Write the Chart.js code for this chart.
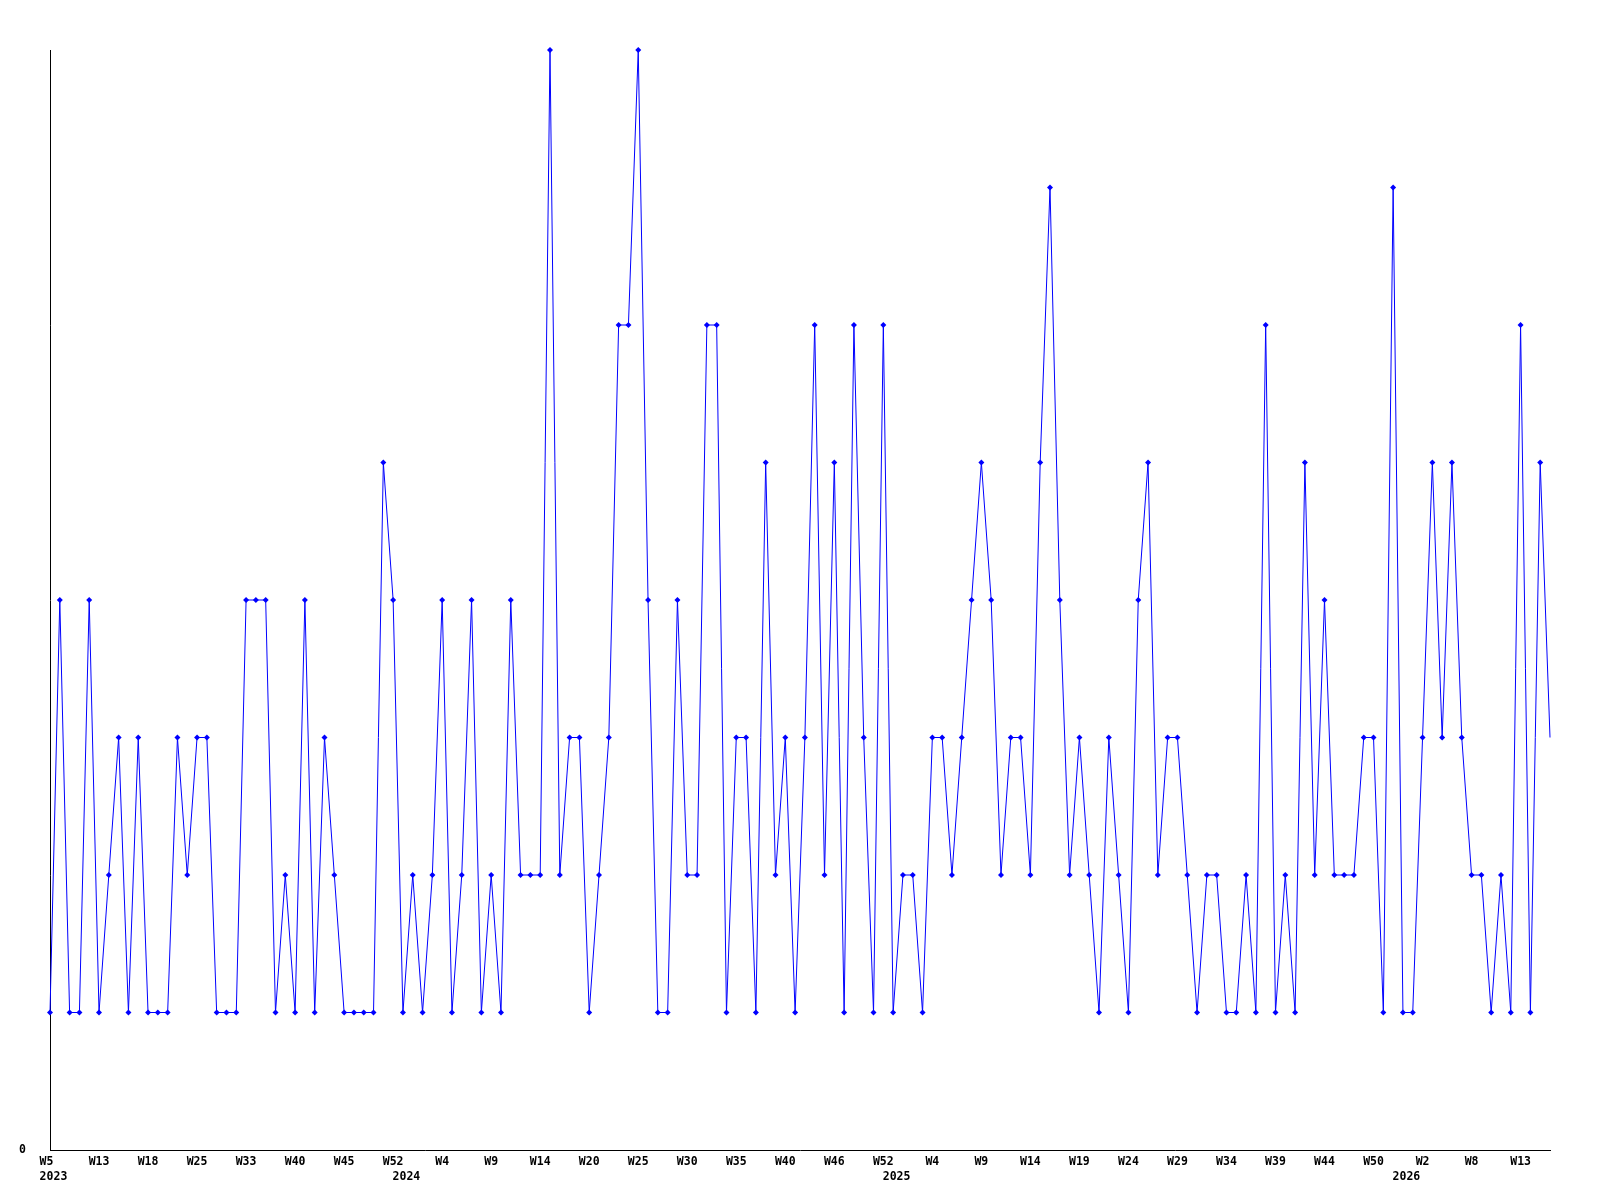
<!DOCTYPE html>
<html>
<head>
<meta charset="utf-8">
<script src="https://cdn.jsdelivr.net/npm/chart.js@4/dist/chart.umd.min.js"></script>
<style>
  body { margin: 0; background: #fff; }
  canvas { display: block; }
</style>
</head>
<body>
<canvas id="graphe" width="1600" height="1200"></canvas>
<script>
// semaines presentes dans les donnees (numerotation %U, les semaines vides sont absentes)
const semaines2023 = [5, 6, 8, 9, 11, 13, 14, 15, 16, 17, 18, 19, 20, 22, 23, 25, 26, 28, 30, 31, 33, 34, 35, 37, 38, 40, 41, 42, 43, 44, 45, 46, 47, 49, 50, 52];
const semaines2024 = [0, 1, 2, 3, 4, 5, 6, 7, 8, 9, 10, 11, 12, 13, 14, 15, 16, 17, 19, 20, 21, 22, 23, 24, 25, 26, 27, 28, 29, 30, 31, 32, 33, 34, 35, 36, 37, 38, 39, 40, 41, 42, 44, 45, 46, 47, 48, 49, 51, 52];
const semaines2025 = [0, 1, 2, 3, 4, 5, 6, 7, 8, 9, 10, 11, 12, 13, 14, 15, 16, 17, 18, 19, 20, 21, 22, 23, 24, 25, 26, 27, 28, 29, 30, 31, 32, 33, 34, 35, 36, 37, 38, 39, 40, 41, 42, 43, 44, 45, 46, 48, 49, 50, 51, 52];
const semaines2026 = [0, 1, 2, 3, 4, 6, 7, 8, 9, 10, 11, 12, 13, 14, 15, 16];

// valeurs par semaine
const valeurs = [
    1, 4, 1, 1, 4, 1, 2, 3, 1, 3,
    1, 1, 1, 3, 2, 3, 3, 1, 1, 1,
    4, 4, 4, 1, 2, 1, 4, 1, 3, 2,
    1, 1, 1, 1, 5, 4, 1, 2, 1, 2,
    4, 1, 2, 4, 1, 2, 1, 4, 2, 2,
    2, 8, 2, 3, 3, 1, 2, 3, 6, 6,
    8, 4, 1, 1, 4, 2, 2, 6, 6, 1,
    3, 3, 1, 5, 2, 3, 1, 3, 6, 2,
    5, 1, 6, 3, 1, 6, 1, 2, 2, 1,
    3, 3, 2, 3, 4, 5, 4, 2, 3, 3,
    2, 5, 7, 4, 2, 3, 2, 1, 3, 2,
    1, 4, 5, 2, 3, 3, 2, 1, 2, 2,
    1, 1, 2, 1, 6, 1, 2, 1, 5, 2,
    4, 2, 2, 2, 3, 3, 1, 7, 1, 1,
    3, 5, 3, 5, 3, 2, 2, 1, 2, 1,
    6, 1, 5, 3
];

const categories = [].concat(
    semaines2023.map(s => '2023-W' + s),
    semaines2024.map(s => '2024-W' + s),
    semaines2025.map(s => '2025-W' + s),
    semaines2026.map(s => '2026-W' + s)
);

const police = { family: '"DejaVu Sans Mono", monospace', size: 11.5, weight: 'bold', lineHeight: 1.3 };

let ctx = document.getElementById('graphe').getContext('2d');
let chart = new Chart(ctx, {
    type: 'line',
    data: {
        labels: categories,
        datasets: [{
            data: valeurs,
            borderColor: '#0000ff',
            borderWidth: 1,
            backgroundColor: '#0000ff',
            pointStyle: 'rectRot',
            pointRadius: c => c.dataIndex === valeurs.length - 1 ? 0 : 3,
            pointBorderWidth: 0,
            pointBackgroundColor: '#0000ff',
            tension: 0,
            fill: false,
            clip: false
        }]
    },
    options: {
        responsive: false,
        animation: false,
        layout: { padding: { top: 50, right: 50, left: 0, bottom: 0 } },
        plugins: { legend: { display: false }, tooltip: { enabled: false } },
        scales: {
            x: {
                offset: false,
                grid: { display: false, drawTicks: false },
                border: { display: true, color: '#000', width: 1 },
                afterFit: s => { s.height = 50; },
                ticks: {
                    autoSkip: false,
                    maxRotation: 0,
                    minRotation: 0,
                    padding: 5,
                    color: '#000',
                    font: police,
                    callback: function (v, i) {
                        const [annee, sem] = categories[i].split('-');
                        const debutAnnee = i === 0 || categories[i - 1].split('-')[0] !== annee;
                        let haut = i % 5 === 0 ? sem : '';
                        if (i === 0) haut += ' ';
                        const bas = debutAnnee ? ' ' + annee : '';
                        if (!haut && !bas) return '';
                        return [haut, bas];
                    }
                }
            },
            y: {
                min: 0,
                max: 8,
                grid: { display: false, drawTicks: false },
                border: { display: true, color: '#000', width: 1 },
                afterFit: s => { s.width = 50; },
                afterBuildTicks: s => { s.ticks = [{ value: 0 }]; },
                ticks: {
                    padding: 24,
                    color: '#000',
                    font: police,
                    callback: v => String(v)
                }
            }
        }
    }
});
</script>
</body>
</html>
